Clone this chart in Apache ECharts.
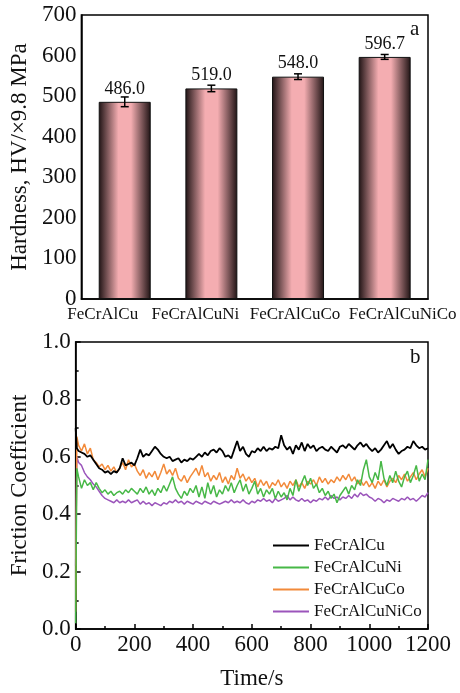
<!DOCTYPE html>
<html>
<head>
<meta charset="utf-8">
<script src="https://cdn.jsdelivr.net/npm/echarts@6/dist/echarts.min.js"></script>
<style>
  html, body { margin: 0; padding: 0; background: #fff; }
  #main { width: 460px; height: 693px; }
</style>
</head>
<body>
<div id="main"></div>
<script>
var chartDom = document.getElementById("main");
var myChart = echarts.init(chartDom);

var FONT = "'Liberation Serif', 'Times New Roman', serif";

// (a) hardness
var alloys = ["FeCrAlCu", "FeCrAlCuNi", "FeCrAlCuCo", "FeCrAlCuNiCo"];
var hardness = [486.0, 519.0, 548.0, 596.7];
var hardnessErr = [12, 8, 7, 6];
var hardnessTicks = [0, 100, 200, 300, 400, 500, 600, 700];

// (b) friction coefficient vs time
var time = [0, 4, 10, 20, 30, 40, 50, 60, 70, 80, 90, 100,
  110, 120, 130, 140, 150, 160, 170, 180, 190, 200,
  210, 220, 230, 240, 250, 260, 270, 280, 290, 300,
  310, 320, 330, 340, 350, 360, 370, 380, 390, 400,
  410, 420, 430, 440, 450, 460, 470, 480, 490, 500,
  510, 520, 530, 540, 550, 560, 570, 580, 590, 600,
  610, 620, 630, 640, 650, 660, 670, 680, 690, 700,
  710, 720, 730, 740, 750, 760, 770, 780, 790, 800,
  810, 820, 830, 840, 850, 860, 870, 880, 890, 900,
  910, 920, 930, 940, 950, 960, 970, 980, 990, 1000,
  1010, 1020, 1030, 1040, 1050, 1060, 1070, 1080, 1090, 1100,
  1110, 1120, 1130, 1140, 1150, 1160, 1170, 1180, 1190, 1200];

var muCu = [0.70, 0.63,
  0.62, 0.615, 0.61, 0.60, 0.605, 0.59, 0.575, 0.56, 0.555, 0.545,
  0.55, 0.54, 0.55, 0.545, 0.56, 0.595, 0.57, 0.575, 0.58, 0.57,
  0.595, 0.625, 0.60, 0.61, 0.605, 0.62, 0.635, 0.625, 0.61, 0.60,
  0.595, 0.60, 0.585, 0.59, 0.595, 0.58, 0.59, 0.585, 0.595, 0.59,
  0.60, 0.61, 0.60, 0.615, 0.605, 0.62, 0.625, 0.615, 0.63, 0.62,
  0.60, 0.605, 0.595, 0.625, 0.655, 0.62, 0.635, 0.61, 0.60, 0.62,
  0.615, 0.63, 0.62, 0.635, 0.62, 0.63, 0.625, 0.635, 0.63, 0.675,
  0.64, 0.625, 0.635, 0.61, 0.64, 0.625, 0.65, 0.62, 0.645, 0.63,
  0.64, 0.62, 0.63, 0.635, 0.625, 0.62, 0.635, 0.625, 0.615, 0.635,
  0.64, 0.63, 0.645, 0.635, 0.625, 0.64, 0.65, 0.635, 0.645, 0.63,
  0.62, 0.63, 0.615, 0.625, 0.64, 0.655, 0.63, 0.645, 0.625, 0.61,
  0.62, 0.625, 0.635, 0.63, 0.655, 0.64, 0.63, 0.635, 0.625, 0.63];

var muCuNi = [0.02, 0.56,
  0.53, 0.49, 0.52, 0.50, 0.51, 0.485, 0.51, 0.49, 0.475, 0.485,
  0.47, 0.48, 0.465, 0.475, 0.48, 0.47, 0.485, 0.475, 0.49, 0.48,
  0.47, 0.49, 0.475, 0.495, 0.47, 0.485, 0.465, 0.49, 0.475, 0.50,
  0.48, 0.505, 0.53, 0.49, 0.47, 0.455, 0.48, 0.465, 0.49, 0.475,
  0.50, 0.46, 0.495, 0.455, 0.51, 0.47, 0.50, 0.46, 0.485, 0.47,
  0.50, 0.48, 0.51, 0.475, 0.50, 0.52, 0.48, 0.505, 0.47, 0.49,
  0.515, 0.47, 0.49, 0.46, 0.485, 0.47, 0.49, 0.455, 0.48, 0.46,
  0.475, 0.45, 0.49, 0.465, 0.52, 0.48, 0.51, 0.535, 0.50, 0.525,
  0.49, 0.505, 0.475, 0.49, 0.465, 0.48, 0.455, 0.47, 0.44, 0.465,
  0.48, 0.495, 0.47, 0.50, 0.485, 0.52, 0.50, 0.555, 0.59, 0.53,
  0.51, 0.545, 0.52, 0.585, 0.525, 0.50, 0.535, 0.51, 0.55, 0.515,
  0.495, 0.53, 0.55, 0.51, 0.535, 0.57, 0.515, 0.54, 0.52, 0.59];

var muCuCo = [0.06, 0.67,
  0.64, 0.62, 0.645, 0.61, 0.63, 0.59, 0.58, 0.565, 0.575, 0.555,
  0.57, 0.55, 0.565, 0.545, 0.56, 0.58, 0.555, 0.59, 0.565, 0.575,
  0.55, 0.535, 0.555, 0.525, 0.545, 0.53, 0.55, 0.52, 0.545, 0.575,
  0.54, 0.555, 0.535, 0.56, 0.525, 0.515, 0.535, 0.51, 0.53, 0.545,
  0.56, 0.535, 0.57, 0.53, 0.545, 0.515, 0.535, 0.52, 0.545, 0.51,
  0.53, 0.505, 0.535, 0.52, 0.56, 0.525, 0.54, 0.515, 0.53, 0.51,
  0.525, 0.495, 0.52, 0.50, 0.515, 0.49, 0.51, 0.50, 0.52, 0.495,
  0.51, 0.49, 0.515, 0.50, 0.52, 0.495, 0.51, 0.49, 0.515, 0.505,
  0.52, 0.50, 0.53, 0.51, 0.525, 0.505, 0.52, 0.51, 0.53, 0.515,
  0.535, 0.52, 0.54, 0.515, 0.53, 0.505, 0.52, 0.50, 0.515, 0.495,
  0.51, 0.49, 0.515, 0.50, 0.52, 0.495, 0.515, 0.525, 0.51, 0.535,
  0.52, 0.54, 0.515, 0.53, 0.545, 0.52, 0.54, 0.555, 0.53, 0.56];

var muCuNiCo = [0.22, 0.60,
  0.58, 0.57, 0.545, 0.53, 0.52, 0.505, 0.495, 0.48, 0.465, 0.455,
  0.45, 0.445, 0.44, 0.45, 0.44, 0.445, 0.44, 0.45, 0.44, 0.445,
  0.45, 0.435, 0.445, 0.435, 0.44, 0.43, 0.44, 0.435, 0.43, 0.44,
  0.435, 0.445, 0.44, 0.45, 0.44, 0.445, 0.435, 0.445, 0.44, 0.435,
  0.445, 0.44, 0.435, 0.445, 0.44, 0.435, 0.445, 0.44, 0.435, 0.44,
  0.445, 0.44, 0.45, 0.44, 0.445, 0.44, 0.45, 0.44, 0.435, 0.445,
  0.44, 0.45, 0.445, 0.455, 0.445, 0.45, 0.44, 0.455, 0.445, 0.45,
  0.455, 0.465, 0.45, 0.46, 0.45, 0.445, 0.455, 0.445, 0.45, 0.44,
  0.45, 0.445, 0.455, 0.45, 0.46, 0.45, 0.465, 0.455, 0.46, 0.45,
  0.46, 0.455, 0.465, 0.455, 0.47, 0.46, 0.475, 0.465, 0.47, 0.46,
  0.455, 0.445, 0.455, 0.45, 0.44, 0.45, 0.445, 0.455, 0.45, 0.445,
  0.455, 0.45, 0.46, 0.45, 0.455, 0.445, 0.455, 0.465, 0.46, 0.475];

var frictionTicks = [0, 0.2, 0.4, 0.6, 0.8, 1.0];

function pairs(ys) {
  return time.map(function (t, i) { return [t, ys[i]]; });
}

var barGradient = new echarts.graphic.LinearGradient(0, 0, 1, 0, [
  { offset: 0, color: "#1f1314" },
  { offset: 0.38, color: "#f4adb1" },
  { offset: 0.62, color: "#f4adb1" },
  { offset: 1, color: "#1f1314" }
]);

var axisLine = { show: true, lineStyle: { color: "#000", width: 1.5 } };

// the category labels in the original sit a little off their bars (they would overlap otherwise)
var labelShift = { l0: [0, 44, 0, 0], l1: [0, 32, 0, 0], l2: [0, 6, 0, 0], l3: [0, 0, 0, 36] };
var labelRich = {};
Object.keys(labelShift).forEach(function (k) {
  labelRich[k] = { fontFamily: FONT, fontSize: 17, color: "#111", padding: labelShift[k] };
});

var option;

option = {
  backgroundColor: "#fff",
  animation: false,
  textStyle: { fontFamily: FONT, color: "#111" },
  grid: [
    { left: 73, right: 32, top: 15, height: 284, show: true, borderColor: "#000", borderWidth: 1.5 },
    { left: 73, right: 32, top: 342, height: 287, show: true, borderColor: "#000", borderWidth: 1.5 }
  ],
  xAxis: [
    {
      type: "category",
      gridIndex: 0,
      data: alloys,
      axisLine: axisLine,
      axisTick: { show: false },
      axisLabel: {
        fontFamily: FONT, fontSize: 17, color: "#111", margin: 7, interval: 0,
        formatter: function (v, i) { return "{l" + i + "|" + v + "}"; },
        rich: labelRich
      }
    },
    {
      type: "value",
      gridIndex: 1,
      min: 0,
      max: 1200,
      interval: 200,
      name: "Time/s",
      nameLocation: "middle",
      nameGap: 38,
      nameTextStyle: { fontFamily: FONT, fontSize: 23, color: "#111" },
      axisLine: axisLine,
      axisTick: { show: true, inside: true, length: 5, lineStyle: { color: "#000", width: 1.5 } },
      minorTick: { show: true, splitNumber: 2, length: 3, lineStyle: { color: "#000", width: 1.5 } },
      splitLine: { show: false },
      axisLabel: {
        fontFamily: FONT, fontSize: 23, color: "#111", margin: 4,
        formatter: function (v) { return String(v); }
      }
    }
  ],
  yAxis: [
    {
      type: "value",
      gridIndex: 0,
      min: 0,
      max: 700,
      interval: 100,
      name: "Hardness, HV/×9.8 MPa",
      nameLocation: "middle",
      nameGap: 33,
      nameTextStyle: { fontFamily: FONT, fontSize: 23, color: "#111" },
      axisLine: axisLine,
      axisTick: { show: false },
      splitLine: { show: false },
      axisLabel: { fontFamily: FONT, fontSize: 23, color: "#111", margin: 5 }
    },
    {
      type: "value",
      gridIndex: 1,
      min: 0,
      max: 1.0,
      interval: 0.2,
      name: "Friction Coefficient",
      nameLocation: "middle",
      nameGap: 28,
      nameTextStyle: { fontFamily: FONT, fontSize: 23, color: "#111" },
      axisLine: axisLine,
      axisTick: { show: true, inside: true, length: 5, lineStyle: { color: "#000", width: 1.5 } },
      minorTick: { show: true, splitNumber: 2, length: 3, lineStyle: { color: "#000", width: 1.5 } },
      splitLine: { show: false },
      axisLabel: {
        fontFamily: FONT, fontSize: 23, color: "#111", margin: 5,
        formatter: function (v) { return v.toFixed(1); }
      }
    }
  ],
  legend: {
    orient: "vertical",
    left: 268,
    top: 532,
    icon: "rect",
    itemWidth: 36,
    itemHeight: 2,
    itemGap: 5,
    data: ["FeCrAlCu", "FeCrAlCuNi", "FeCrAlCuCo", "FeCrAlCuNiCo"],
    textStyle: { fontFamily: FONT, fontSize: 17, color: "#111", padding: [0, 0, 0, 0] }
  },
  graphic: [
    { type: "text", left: 410, top: 19, style: { text: "a", font: "21px " + FONT, fill: "#111" } },
    { type: "text", left: 410, top: 347, style: { text: "b", font: "21px " + FONT, fill: "#111" } }
  ],
  series: [
    {
      name: "Hardness",
      type: "bar",
      xAxisIndex: 0,
      yAxisIndex: 0,
      barWidth: "60%",
      data: hardness,
      itemStyle: { color: barGradient, borderColor: "#111", borderWidth: 1 },
      label: {
        show: true,
        position: "top",
        distance: 4,
        fontFamily: FONT,
        fontSize: 18,
        color: "#111",
        formatter: function (p) { return p.value.toFixed(1); }
      }
    },
    {
      name: "Error",
      type: "custom",
      xAxisIndex: 0,
      yAxisIndex: 0,
      data: hardness.map(function (v, i) { return [i, v - hardnessErr[i], v + hardnessErr[i]]; }),
      renderItem: function (params, api) {
        var lo = api.coord([api.value(0), api.value(1)]);
        var hi = api.coord([api.value(0), api.value(2)]);
        var w = 4;
        var st = { stroke: "#000", lineWidth: 1.5 };
        return {
          type: "group",
          children: [
            { type: "line", shape: { x1: lo[0], y1: lo[1], x2: hi[0], y2: hi[1] }, style: st },
            { type: "line", shape: { x1: lo[0] - w, y1: lo[1], x2: lo[0] + w, y2: lo[1] }, style: st },
            { type: "line", shape: { x1: hi[0] - w, y1: hi[1], x2: hi[0] + w, y2: hi[1] }, style: st }
          ]
        };
      },
      z: 5
    },
    {
      name: "FeCrAlCuNiCo",
      type: "line",
      xAxisIndex: 1,
      yAxisIndex: 1,
      symbol: "none",
      color: "#9b55bb",
      lineStyle: { width: 1.5 },
      data: pairs(muCuNiCo)
    },
    {
      name: "FeCrAlCuCo",
      type: "line",
      xAxisIndex: 1,
      yAxisIndex: 1,
      symbol: "none",
      color: "#f28a3a",
      lineStyle: { width: 1.5 },
      data: pairs(muCuCo)
    },
    {
      name: "FeCrAlCuNi",
      type: "line",
      xAxisIndex: 1,
      yAxisIndex: 1,
      symbol: "none",
      color: "#47b847",
      lineStyle: { width: 1.5 },
      data: pairs(muCuNi)
    },
    {
      name: "FeCrAlCu",
      type: "line",
      xAxisIndex: 1,
      yAxisIndex: 1,
      symbol: "none",
      color: "#000000",
      lineStyle: { width: 1.8 },
      data: pairs(muCu)
    }
  ]
};

option && myChart.setOption(option);
</script>
</body>
</html>
